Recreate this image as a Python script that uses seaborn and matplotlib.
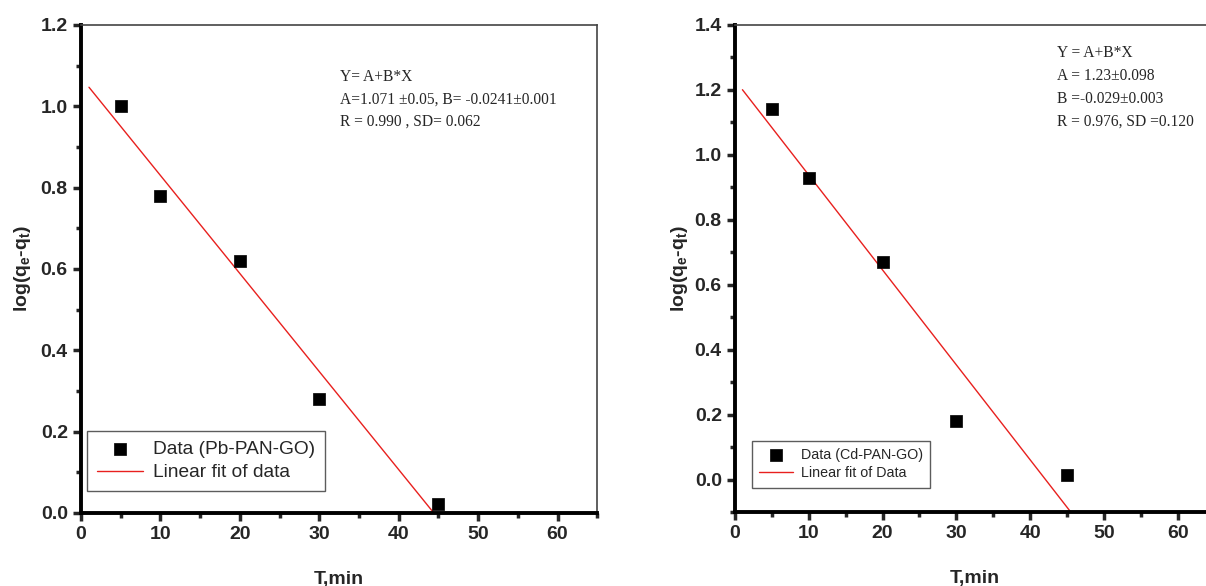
import numpy as np
import pandas as pd
import matplotlib
matplotlib.use("Agg")
import matplotlib.pyplot as plt
import seaborn as sns
from matplotlib.ticker import MultipleLocator

# ---- data ----
time_min = [5, 10, 20, 30, 45]
pb_log = [1.00, 0.78, 0.62, 0.28, 0.023]
cd_log = [1.14, 0.93, 0.67, 0.18, 0.015]

pb_label = "Data (Pb-PAN-GO)"
cd_label = "Data (Cd-PAN-GO)"
pb_fit_label = "Linear fit of data"
cd_fit_label = "Linear fit of Data"
pb_text = "Y= A+B*X\nA=1.071 \u00b10.05, B= -0.0241\u00b10.001\nR = 0.990 , SD= 0.062"
cd_text = "Y = A+B*X\nA = 1.23\u00b10.098\nB =-0.029\u00b10.003\nR = 0.976, SD =0.120"

sns.set_style("ticks")
plt.rcParams["font.family"] = ["Liberation Sans", "DejaVu Sans"]
plt.rcParams["mathtext.default"] = "regular"

fig = plt.figure(figsize=(12.06, 5.86), dpi=100)
ax1 = fig.add_axes([0.0672, 0.1246, 0.428, 0.8328])
ax2 = fig.add_axes([0.6095, 0.1263, 0.3975, 0.8311])


def panel(ax, yvals, data_label, fit_label, text, ylim, ymajor, legend_fs, leg_anchor,
          leg_pad, txt_pos, txt_ls, ylab_x):
    df = pd.DataFrame({"t": time_min, "y": yvals})
    sns.scatterplot(data=df, x="t", y="y", marker="s", s=70, color="black",
                    edgecolor="black", linewidth=0.5, ax=ax, label=data_label, zorder=3)
    b, a = np.polyfit(time_min, yvals, 1)
    xs = np.array([1.0, 50.0])
    sns.lineplot(x=xs, y=a + b * xs, color="#e8201e", linewidth=1.0, ax=ax, label=fit_label)
    ax.set_xlim(0, 65)
    ax.set_ylim(*ylim)
    ax.xaxis.set_major_locator(MultipleLocator(10))
    ax.xaxis.set_minor_locator(MultipleLocator(5))
    ax.yaxis.set_major_locator(MultipleLocator(ymajor))
    ax.yaxis.set_minor_locator(MultipleLocator(ymajor / 2))
    ax.tick_params(which="major", direction="out", length=6, width=2.5, labelsize=14)
    ax.tick_params(which="minor", direction="out", length=3.5, width=2.5)
    for lab in ax.get_xticklabels() + ax.get_yticklabels():
        lab.set_fontweight("bold")
    for s in ["left", "bottom"]:
        ax.spines[s].set_linewidth(2.8)
        ax.spines[s].set_color("black")
    for s in ["top", "right"]:
        ax.spines[s].set_linewidth(1.2)
        ax.spines[s].set_color("#444444")
    ax.set_xlabel("T,min", fontsize=14, fontweight="bold", labelpad=20)
    ax.set_ylabel(r"log(q$_e$-q$_t$)", fontsize=14, fontweight="bold")
    ax.yaxis.set_label_coords(ylab_x, 0.5)
    leg = ax.legend(loc="lower left", bbox_to_anchor=leg_anchor, borderaxespad=0,
                    frameon=True, fancybox=False, fontsize=legend_fs, handlelength=2.4,
                    handletextpad=0.55, borderpad=leg_pad, labelspacing=0.3)
    leg.get_frame().set_edgecolor("#333333")
    leg.get_frame().set_linewidth(1.0)
    ax.text(txt_pos[0], txt_pos[1], text, transform=ax.transAxes, ha="left", va="top",
            fontsize=11.2, family=["Liberation Serif", "DejaVu Serif"], linespacing=txt_ls)


panel(ax1, pb_log, pb_label, pb_fit_label, pb_text, (0, 1.2), 0.2, 13.8,
      (0.012, 0.045), 0.5, (0.502, 0.91), 1.55, -0.093)
panel(ax2, cd_log, cd_label, cd_fit_label, cd_text, (-0.1, 1.4), 0.2, 10.3,
      (0.035, 0.05), 0.5, (0.672, 0.958), 1.55, -0.094)

fig.savefig("out.png", dpi=100)
